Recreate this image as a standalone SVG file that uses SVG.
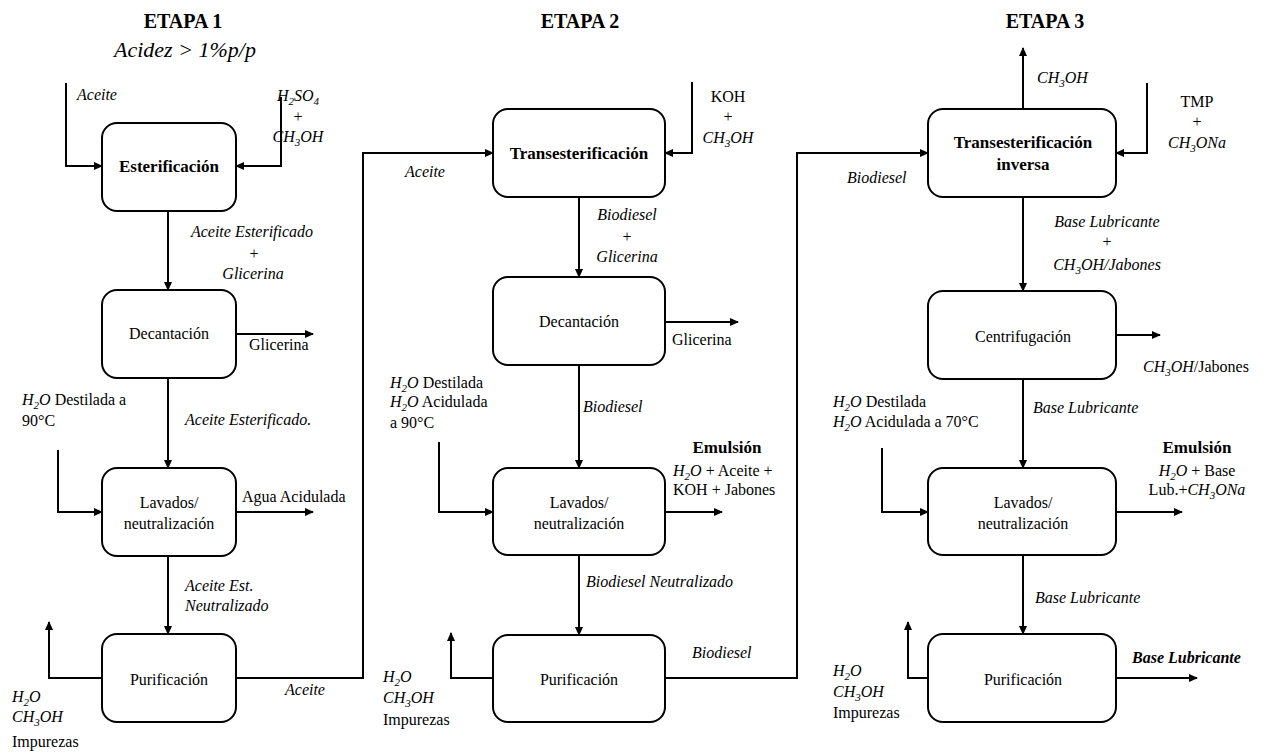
<svg xmlns="http://www.w3.org/2000/svg" width="1268" height="754" viewBox="0 0 1268 754" font-family="'Liberation Serif', Tinos, 'Times New Roman', 'DejaVu Serif', serif">
<style>
text{font-family:'Liberation Serif',Tinos,'Times New Roman','DejaVu Serif',serif;font-size:16px;fill:#000}
.b{font-weight:bold;font-size:17px}
.i{font-style:italic}
.m{font-style:italic}
.h{font-weight:bold;font-size:20px}
.c{text-anchor:middle}
.box{fill:#fff;stroke:#000;stroke-width:2}
.ln{fill:none;stroke:#000;stroke-width:2;marker-end:url(#ah)}
.s{font-size:11px}
</style>
<defs>
<marker id="ah" markerUnits="userSpaceOnUse" markerWidth="9" markerHeight="8" refX="8" refY="4" orient="auto">
<path d="M0,0 L9,4 L0,8 z" fill="#000"/>
</marker>
</defs>
<rect width="1268" height="754" fill="#fff"/>

<g id="titles">
<text class="h c" x="183" y="28">ETAPA 1</text>
<text class="i c" x="185" y="57" style="font-size:22px">Acidez &gt; 1%p/p</text>
<text class="h c" x="580" y="28">ETAPA 2</text>
<text class="h c" x="1045" y="28">ETAPA 3</text>
</g>

<g id="connectors">
<path class="ln" d="M66,83 V166 H102"/>
<path class="ln" d="M281,97 V166 H236"/>
<path class="ln" d="M168,211 V290"/>
<path class="ln" d="M236,334 H313"/>
<path class="ln" d="M168,378 V468"/>
<path class="ln" d="M58,450 V512 H102"/>
<path class="ln" d="M236,512 H313"/>
<path class="ln" d="M168,556 V634"/>
<path class="ln" d="M102,678 H49 V622"/>
<path class="ln" d="M236,678 H363 V153 H493"/>
<path class="ln" d="M692,82 V153 H665"/>
<path class="ln" d="M579,197 V277"/>
<path class="ln" d="M665,322 H738"/>
<path class="ln" d="M579,365 V468"/>
<path class="ln" d="M439,442 V512 H493"/>
<path class="ln" d="M665,512 H722"/>
<path class="ln" d="M579,555 V635"/>
<path class="ln" d="M493,678 H451 V633"/>
<path class="ln" d="M665,678 H797 V153 H928"/>
<path class="ln" d="M1023,109 V48"/>
<path class="ln" d="M1147,83 V153 H1116"/>
<path class="ln" d="M1023,197 V291"/>
<path class="ln" d="M1116,335 H1160"/>
<path class="ln" d="M1023,379 V468"/>
<path class="ln" d="M882,448 V512 H928"/>
<path class="ln" d="M1116,512 H1182"/>
<path class="ln" d="M1023,555 V634"/>
<path class="ln" d="M928,678 H908 V622"/>
<path class="ln" d="M1116,678 H1197"/>
</g>

<g id="esterificacion">
<rect class="box" x="102" y="123" width="134" height="88" rx="15"/>
<text class="b c" x="169" y="172">Esterificación</text>
</g>
<g id="decantacion1">
<rect class="box" x="102" y="290" width="134" height="88" rx="15"/>
<text class="c" x="169" y="339">Decantación</text>
</g>
<g id="lavados1">
<rect class="box" x="102" y="468" width="134" height="88" rx="15"/>
<text class="c" x="169" y="508">Lavados/</text>
<text class="c" x="169" y="529">neutralización</text>
</g>
<g id="purificacion1">
<rect class="box" x="102" y="634" width="134" height="88" rx="15"/>
<text class="c" x="169" y="685">Purificación</text>
</g>

<g id="transesterificacion">
<rect class="box" x="493" y="109" width="172" height="88" rx="15"/>
<text class="b c" x="579" y="159">Transesterificación</text>
</g>
<g id="decantacion2">
<rect class="box" x="493" y="277" width="172" height="88" rx="15"/>
<text class="c" x="579" y="327">Decantación</text>
</g>
<g id="lavados2">
<rect class="box" x="493" y="468" width="172" height="87" rx="15"/>
<text class="c" x="579" y="508">Lavados/</text>
<text class="c" x="579" y="529">neutralización</text>
</g>
<g id="purificacion2">
<rect class="box" x="493" y="635" width="172" height="87" rx="15"/>
<text class="c" x="579" y="685">Purificación</text>
</g>

<g id="transinversa">
<rect class="box" x="928" y="109" width="188" height="88" rx="15"/>
<text class="b c" x="1023" y="148">Transesterificación</text>
<text class="b c" x="1023" y="170">inversa</text>
</g>
<g id="centrifugacion">
<rect class="box" x="928" y="291" width="188" height="88" rx="15"/>
<text class="c" x="1023" y="342">Centrifugación</text>
</g>
<g id="lavados3">
<rect class="box" x="928" y="468" width="188" height="87" rx="15"/>
<text class="c" x="1023" y="508">Lavados/</text>
<text class="c" x="1023" y="529">neutralización</text>
</g>
<g id="purificacion3">
<rect class="box" x="928" y="634" width="188" height="88" rx="15"/>
<text class="c" x="1023" y="685">Purificación</text>
</g>

<g id="labels1">
<text class="i" x="77" y="100">Aceite</text>
<text class="m c" x="298" y="101">H<tspan class="s" dy="4">2</tspan><tspan dy="-4">SO</tspan><tspan class="s" dy="4">4</tspan></text>
<text class="c" x="298" y="122">+</text>
<text class="m c" x="298" y="142">CH<tspan class="s" dy="4">3</tspan><tspan dy="-4">OH</tspan></text>
<text class="i c" x="252" y="237">Aceite Esterificado</text>
<text class="c" x="254" y="259">+</text>
<text class="i c" x="253" y="279">Glicerina</text>
<text x="249" y="350">Glicerina</text>
<text x="22" y="405"><tspan class="m">H</tspan><tspan class="s m" dy="4">2</tspan><tspan class="m" dy="-4">O</tspan> Destilada a</text>
<text x="22" y="426">90°C</text>
<text class="i" x="185" y="425">Aceite Esterificado.</text>
<text x="242" y="502">Agua Acidulada</text>
<text class="i" x="185" y="591">Aceite Est.</text>
<text class="i" x="185" y="611">Neutralizado</text>
<text x="12" y="702"><tspan class="m">H</tspan><tspan class="s m" dy="4">2</tspan><tspan class="m" dy="-4">O</tspan></text>
<text class="m" x="12" y="722">CH<tspan class="s" dy="4">3</tspan><tspan dy="-4">OH</tspan></text>
<text x="12" y="747">Impurezas</text>
<text class="i" x="285" y="695">Aceite</text>
</g>

<g id="labels2">
<text class="i" x="405" y="177">Aceite</text>
<text class="c" x="728" y="102">KOH</text>
<text class="c" x="728" y="122">+</text>
<text class="m c" x="728" y="143">CH<tspan class="s" dy="4">3</tspan><tspan dy="-4">OH</tspan></text>
<text class="i c" x="627" y="220">Biodiesel</text>
<text class="c" x="627" y="242">+</text>
<text class="i c" x="627" y="262">Glicerina</text>
<text x="672" y="345">Glicerina</text>
<text x="390" y="388"><tspan class="m">H</tspan><tspan class="s m" dy="4">2</tspan><tspan class="m" dy="-4">O</tspan> Destilada</text>
<text x="390" y="407"><tspan class="m">H</tspan><tspan class="s m" dy="4">2</tspan><tspan class="m" dy="-4">O</tspan> Acidulada</text>
<text x="390" y="428">a 90°C</text>
<text class="i" x="583" y="412">Biodiesel</text>
<text class="b c" x="727" y="453">Emulsión</text>
<text x="673" y="476"><tspan class="m">H</tspan><tspan class="s m" dy="4">2</tspan><tspan class="m" dy="-4">O</tspan> + Aceite +</text>
<text x="673" y="495">KOH + Jabones</text>
<text class="i" x="586" y="587">Biodiesel Neutralizado</text>
<text class="i" x="692" y="658">Biodiesel</text>
<text x="383" y="682"><tspan class="m">H</tspan><tspan class="s m" dy="4">2</tspan><tspan class="m" dy="-4">O</tspan></text>
<text class="m" x="383" y="703">CH<tspan class="s" dy="4">3</tspan><tspan dy="-4">OH</tspan></text>
<text x="383" y="725">Impurezas</text>
</g>

<g id="labels3">
<text class="m" x="1037" y="83">CH<tspan class="s" dy="4">3</tspan><tspan dy="-4">OH</tspan></text>
<text class="c" x="1197" y="107">TMP</text>
<text class="c" x="1197" y="127">+</text>
<text class="m c" x="1197" y="148">CH<tspan class="s" dy="4">3</tspan><tspan dy="-4">ONa</tspan></text>
<text class="i" x="847" y="183">Biodiesel</text>
<text class="i c" x="1107" y="227">Base Lubricante</text>
<text class="c" x="1107" y="247">+</text>
<text class="i c" x="1107" y="270">CH<tspan class="s" dy="4">3</tspan><tspan dy="-4">OH/Jabones</tspan></text>
<text x="1143" y="372"><tspan class="m">CH</tspan><tspan class="s m" dy="4">3</tspan><tspan class="m" dy="-4">OH</tspan>/Jabones</text>
<text x="833" y="407"><tspan class="m">H</tspan><tspan class="s m" dy="4">2</tspan><tspan class="m" dy="-4">O</tspan> Destilada</text>
<text x="833" y="427"><tspan class="m">H</tspan><tspan class="s m" dy="4">2</tspan><tspan class="m" dy="-4">O</tspan> Acidulada a 70°C</text>
<text class="i" x="1033" y="413">Base Lubricante</text>
<text class="b c" x="1197" y="453">Emulsión</text>
<text class="c" x="1197" y="476"><tspan class="m">H</tspan><tspan class="s m" dy="4">2</tspan><tspan class="m" dy="-4">O</tspan> + Base</text>
<text class="c" x="1197" y="495">Lub.+<tspan class="m">CH</tspan><tspan class="s m" dy="4">3</tspan><tspan class="m" dy="-4">ONa</tspan></text>
<text class="i" x="1035" y="603">Base Lubricante</text>
<text class="b i" x="1132" y="663" style="font-size:16px">Base Lubricante</text>
<text x="833" y="676"><tspan class="m">H</tspan><tspan class="s m" dy="4">2</tspan><tspan class="m" dy="-4">O</tspan></text>
<text class="m" x="833" y="697">CH<tspan class="s" dy="4">3</tspan><tspan dy="-4">OH</tspan></text>
<text x="833" y="718">Impurezas</text>
</g>
</svg>
